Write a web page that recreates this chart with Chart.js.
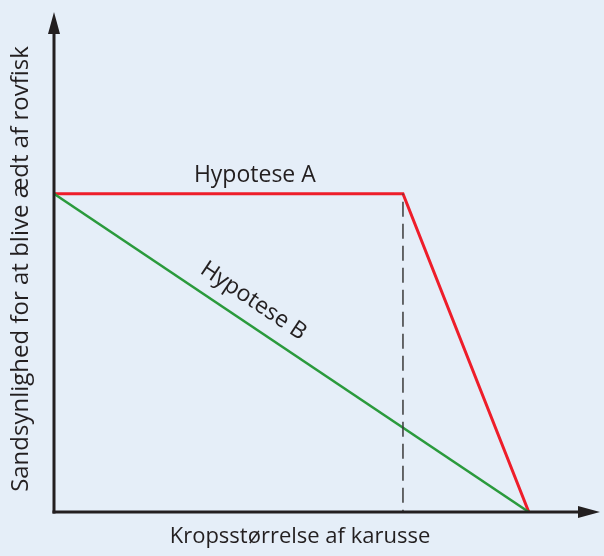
<!DOCTYPE html>
<html>
<head>
<meta charset="utf-8">
<script src="https://cdn.jsdelivr.net/npm/chart.js@4"></script>
<style>
  html, body { margin: 0; padding: 0; background: #e5eef8; }
  #wrap { width: 604px; height: 556px; }
</style>
</head>
<body>
<div id="wrap"><canvas id="chart"></canvas></div>
<script>
// data (arbitrary units)
const hypAx = [0, 7.35, 10];
const hypAy = [7, 7, 0];
const hypBx = [0, 10];
const hypBy = [7, 0];
const dashX = [7.35, 7.35];
const dashY = [7, 0];
const xTitle = "Kropsstørrelse af karusse";
const yTitle = "Sandsynlighed for at blive ædt af rovfisk";
const labelA = "Hypotese A";
const labelB = "Hypotese B";

const toPts = (xs, ys) => xs.map((x, i) => ({ x: x, y: ys[i] }));

const FONT = '"Open Sans", "Noto Sans", sans-serif';

// draws axes with arrows, axis titles and the hypothesis labels
const decorations = {
  id: 'decorations',
  afterDatasetsDraw(chart) {
    const c = chart.ctx;
    const a = chart.chartArea;
    const xs = chart.scales.x, ys = chart.scales.y;
    c.save();
    c.strokeStyle = '#231f20';
    c.fillStyle = '#231f20';
    c.lineWidth = 3;
    // y axis
    c.beginPath();
    c.moveTo(a.left, a.bottom + 1.5);
    c.lineTo(a.left, a.top + 20);
    c.stroke();
    c.beginPath();
    c.moveTo(a.left, a.top);
    c.lineTo(a.left - 6, a.top + 22);
    c.lineTo(a.left + 6, a.top + 22);
    c.closePath();
    c.fill();
    // x axis
    c.beginPath();
    c.moveTo(a.left - 1.5, a.bottom);
    c.lineTo(a.right - 20, a.bottom);
    c.stroke();
    c.beginPath();
    c.moveTo(a.right, a.bottom);
    c.lineTo(a.right - 22, a.bottom - 6);
    c.lineTo(a.right - 22, a.bottom + 6);
    c.closePath();
    c.fill();

    c.textAlign = 'center';
    c.textBaseline = 'middle';
    c.font = '22px ' + FONT;
    c.fillText(xTitle, 300, 537);
    c.font = '24px ' + FONT;
    c.save();
    c.translate(21, 269);
    c.rotate(-Math.PI / 2);
    c.fillText(yTitle, 0, 0);
    c.restore();

    // hypothesis labels
    c.font = '23px ' + FONT;
    c.fillText(labelA, xs.getPixelForValue(4.23), ys.getPixelForValue(7) - 18);
    const x0 = xs.getPixelForValue(0), y0 = ys.getPixelForValue(7);
    const x1 = xs.getPixelForValue(10), y1 = ys.getPixelForValue(0);
    const ang = Math.atan2(y1 - y0, x1 - x0);
    c.save();
    c.translate(xs.getPixelForValue(3.94), ys.getPixelForValue(4.24));
    c.rotate(ang);
    c.fillText(labelB, 0, -22);
    c.restore();
    c.restore();
  }
};

const ctx = document.getElementById('chart').getContext('2d');
const chart = new Chart(ctx, {
  type: 'scatter',
  data: {
    datasets: [
      {
        label: 'dash',
        data: toPts(dashX, dashY),
        showLine: true,
        borderColor: '#3a3a3a',
        borderWidth: 1.5,
        borderDash: [15, 7],
        borderDashOffset: -8,
        pointRadius: 0
      },
      {
        label: labelB,
        data: toPts(hypBx, hypBy),
        showLine: true,
        borderColor: '#2a9a3c',
        borderWidth: 2.5,
        pointRadius: 0
      },
      {
        label: labelA,
        data: toPts(hypAx, hypAy),
        showLine: true,
        borderColor: '#ee1d2a',
        borderWidth: 3,
        pointRadius: 0
      }
    ]
  },
  options: {
    responsive: true,
    maintainAspectRatio: false,
    animation: false,
    layout: { padding: { left: 54, right: 4, top: 12, bottom: 44 } },
    scales: {
      x: { type: 'linear', min: 0, max: 11.5, display: false },
      y: { type: 'linear', min: 0, max: 11, display: false }
    },
    plugins: {
      legend: { display: false },
      tooltip: { enabled: false }
    }
  },
  plugins: [decorations]
});
</script>
</body>
</html>
